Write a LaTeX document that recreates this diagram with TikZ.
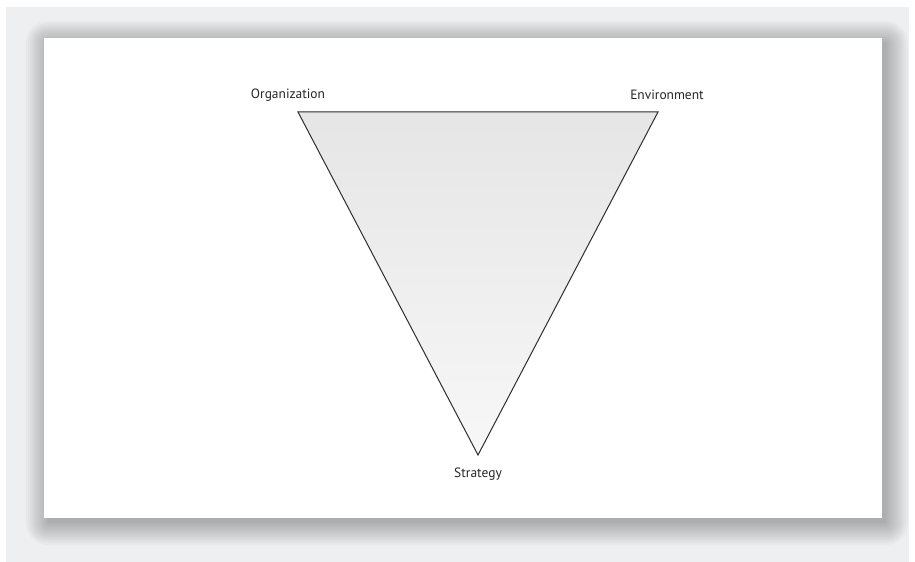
\documentclass[tikz,border=0pt]{standalone}
\usepackage{fontspec}
\setmainfont{PT Sans}
\definecolor{paneGray}{HTML}{EEEFF1}
\definecolor{edgeGray}{HTML}{2E2E2E}
\begin{document}
\begin{tikzpicture}[x=1bp,y=-1bp,
    every node/.style = {font=\fontsize{13.5}{15}\selectfont, text=black!85},
    tri/.style={draw=edgeGray, line width=1bp, line join=miter,
      top color=black!10, bottom color=black!3}]
    \useasboundingbox (0,0) rectangle (915,562);
    \fill[paneGray] (6,7) rectangle (909,562);
    % card shadow
    \foreach \r in {22,20,...,0}
      \fill[black, opacity=0.022, rounded corners=\r bp]
        (48-\r,43-\r) rectangle (886+\r,523+\r);
    \fill[white] (44,38) rectangle (882,518);
    \coordinate (org) at (298,112);
    \coordinate (env) at (658,112);
    \coordinate (str) at (478,455);
    \path[tri] (org) -- (env) -- (str) -- cycle;
    \node (orgl) at (288,95) {Organization};
    \node (envl) at (667,95) {Environment};
    \node (strl) at (478,474) {Strategy};
\end{tikzpicture}
\end{document}
